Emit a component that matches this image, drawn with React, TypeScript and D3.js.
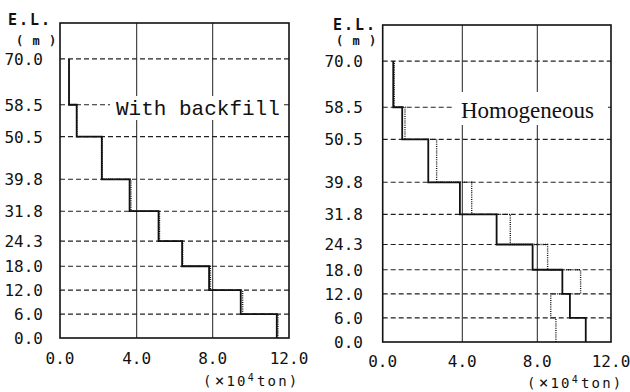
import React from "react";
import * as d3 from "d3";

// Elevation boundaries (m), bottom to top
const elevations = [0, 6, 12, 18, 24.3, 31.8, 39.8, 50.5, 58.5, 70];
const yTickLabels = ["0.0", "6.0", "12.0", "18.0", "24.3", "31.8", "39.8", "50.5", "58.5", "70.0"];
const xTicks = [0, 4, 8, 12];
const xTickLabels = ["0.0", "4.0", "8.0", "12.0"];

// Segment values (x10^4 ton), one per elevation interval, bottom to top
const backfillSolid = [11.36, 9.47, 7.81, 6.39, 5.15, 3.63, 2.18, 0.87, 0.47];
const backfillDotted = [11.42, 9.57, 7.88, 6.42, 5.2, 3.7, 2.2, 0.88, 0.48];
const homoSolid = [10.63, 9.77, 9.36, 7.75, 5.83, 3.88, 2.29, 0.98, 0.53];
const homoDotted = [9.01, 8.73, 10.35, 8.56, 6.56, 4.5, 2.71, 1.12, 0.58];

const titles = ["With backfill", "Homogeneous"];

type PanelCfg = {
  xRange: number[];
  yRange: [number, number];
  solid: number[];
  dotted: number[];
  title: string;
  titleFont: string;
  titleSize: number;
  titleX: number;
  titleY: number;
  box: [number, number, number, number];
  elX: number;
  elY: number;
  mX: number;
  mY: number;
  yLabelX: number;
  xLabelY: number;
  unitX: number;
  unitY: number;
};

const panels: PanelCfg[] = [
  {
    xRange: [60, 136.7, 212.7, 289],
    yRange: [338, 23],
    solid: backfillSolid,
    dotted: backfillDotted,
    title: titles[0],
    titleFont: "'Liberation Mono', monospace",
    titleSize: 21,
    titleX: 116,
    titleY: 115,
    box: [110, 96, 173, 24],
    elX: 8,
    elY: 25,
    mX: 16,
    mY: 45,
    yLabelX: 43,
    xLabelY: 364,
    unitX: 203,
    unitY: 386,
  },
  {
    xRange: [382.7, 462.3, 537.3, 611],
    yRange: [342, 25],
    solid: homoSolid,
    dotted: homoDotted,
    title: titles[1],
    titleFont: "'Liberation Serif', serif",
    titleSize: 23,
    titleX: 461,
    titleY: 118,
    box: [452, 92, 156, 33],
    elX: 333,
    elY: 30,
    mX: 336,
    mY: 45,
    yLabelX: 363,
    xLabelY: 367,
    unitX: 527,
    unitY: 388,
  },
];

function stepPoints(vals: number[]): [number, number][] {
  const pts: [number, number][] = [];
  vals.forEach((v, i) => {
    pts.push([v, elevations[i]]);
    pts.push([v, elevations[i + 1]]);
  });
  return pts;
}

const monoFont = "'DejaVu Sans Mono', monospace";

function Panel({ cfg }: { cfg: PanelCfg }) {
  const x = d3.scaleLinear().domain(xTicks).range(cfg.xRange);
  const y = d3.scaleLinear().domain([0, 79]).range(cfg.yRange);
  const line = d3
    .line<[number, number]>()
    .x((d) => x(d[0]))
    .y((d) => y(d[1]));
  const x0 = x(0);
  const x1 = x(12);
  const yb = y(0);
  const yt = y(79);
  return (
    <g>
      {/* vertical grid */}
      {xTicks.slice(1, -1).map((t) => (
        <line key={t} x1={x(t)} x2={x(t)} y1={yt} y2={yb} stroke="#222" strokeWidth={1} />
      ))}
      {/* horizontal dashed grid */}
      {elevations.slice(1).map((e) => (
        <line
          key={e}
          x1={x0}
          x2={x1}
          y1={y(e)}
          y2={y(e)}
          stroke="#222"
          strokeWidth={1.1}
          strokeDasharray="5,3"
        />
      ))}
      {/* title with white box */}
      <rect x={cfg.box[0]} y={cfg.box[1]} width={cfg.box[2]} height={cfg.box[3]} fill="#fff" />
      <text
        x={cfg.titleX}
        y={cfg.titleY}
        fontFamily={cfg.titleFont}
        fontSize={cfg.titleSize}
        fill="#111"
      >
        {cfg.title}
      </text>
      {/* dotted series */}
      <path
        d={line(stepPoints(cfg.dotted)) || ""}
        fill="none"
        stroke="#111"
        strokeWidth={1.4}
        strokeDasharray="1,1.2"
      />
      {/* solid series */}
      <path d={line(stepPoints(cfg.solid)) || ""} fill="none" stroke="#111" strokeWidth={1.8} />
      {/* frame */}
      <rect x={x0} y={yt} width={x1 - x0} height={yb - yt} fill="none" stroke="#111" strokeWidth={1.6} />
      {/* y labels */}
      {elevations.map((e, i) => (
        <text
          key={e}
          x={cfg.yLabelX}
          y={y(e) + 6}
          textAnchor="end"
          fontFamily={monoFont}
          fontSize={16}
          fill="#111"
        >
          {yTickLabels[i]}
        </text>
      ))}
      {/* x labels */}
      {xTicks.map((t, i) => (
        <text
          key={t}
          x={x(t)}
          y={cfg.xLabelY}
          textAnchor="middle"
          fontFamily={monoFont}
          fontSize={16}
          fill="#111"
        >
          {xTickLabels[i]}
        </text>
      ))}
      <text
        x={cfg.elX}
        y={cfg.elY}
        fontFamily={monoFont}
        fontSize={15}
        fontWeight="bold"
        letterSpacing={2}
        fill="#111"
      >
        E.L.
      </text>
      <text
        x={cfg.mX}
        y={cfg.mY}
        fontFamily={monoFont}
        fontSize={12}
        fontWeight="bold"
        letterSpacing={1}
        fill="#111"
        xmlSpace="preserve"
      >
        ( m )
      </text>
      <text
        x={cfg.unitX}
        y={cfg.unitY}
        fontFamily={monoFont}
        fontSize={14}
        letterSpacing={2.2}
        fill="#111"
      >
        (
        <tspan fontSize={16} dx={1}>×</tspan>
        <tspan>10</tspan>
        <tspan fontSize={10} dy={-5}>4</tspan>
        <tspan dy={5} dx={1}>ton)</tspan>
      </text>
    </g>
  );
}

export default function App() {
  return (
    <svg
      width={630}
      height={392}
      style={{ position: "fixed", left: 0, top: 0, background: "#fff" }}
    >
      <rect x={0} y={0} width={630} height={392} fill="#fff" />
      {panels.map((p, i) => (
        <Panel key={i} cfg={p} />
      ))}
    </svg>
  );
}
